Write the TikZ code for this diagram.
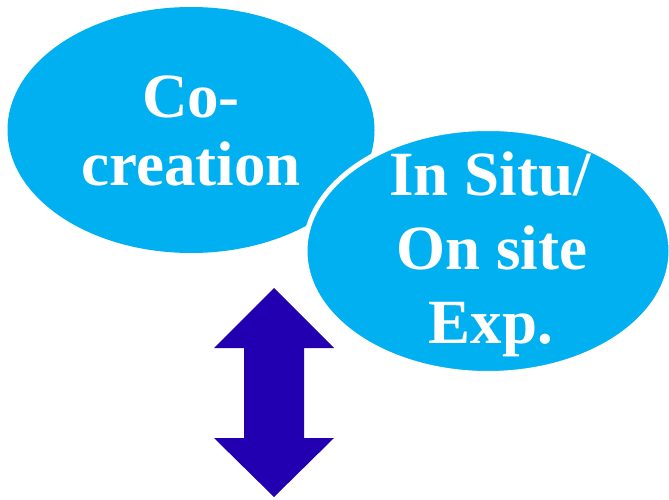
\documentclass[tikz,border=0pt]{standalone}
\usepackage{fontspec}
\setmainfont{Liberation Serif}
\usetikzlibrary{shapes.geometric}
\definecolor{skyb}{HTML}{00B0F0}
\definecolor{arrowblue}{RGB}{34,0,178}
\tikzset{
  blob/.style={ellipse, fill=skyb, inner sep=0pt},
  lbl/.style={text=white, font=\fontsize{63}{68}\selectfont\bfseries, anchor=base, inner sep=0pt},
  dblarrow/.style={fill=arrowblue, draw=none}
}
\begin{document}
\begin{tikzpicture}[x=1pt,y=-1pt]
\useasboundingbox (0,0) rectangle (669,500);
\node[blob, minimum width=367pt, minimum height=246pt] (e1) at (191,130) {};
\node[blob, draw=white, line width=5pt, minimum width=366pt, minimum height=245pt] (e2) at (488,251) {};
\node[lbl] (t1) at (191,118) {Co-};
\node[lbl] (t2) at (191,185) {creation};
\node[lbl] (t3) at (490,195) {In Situ/};
\node[lbl] (t4) at (492,269) {On site};
\node[lbl] (t5) at (491,343) {Exp.};
\fill[dblarrow] (274,288) -- (334,348) -- (304,348) -- (304,438) -- (334,438) -- (274,497) -- (214,438) -- (244,438) -- (244,348) -- (214,348) -- cycle;
\end{tikzpicture}
\end{document}
